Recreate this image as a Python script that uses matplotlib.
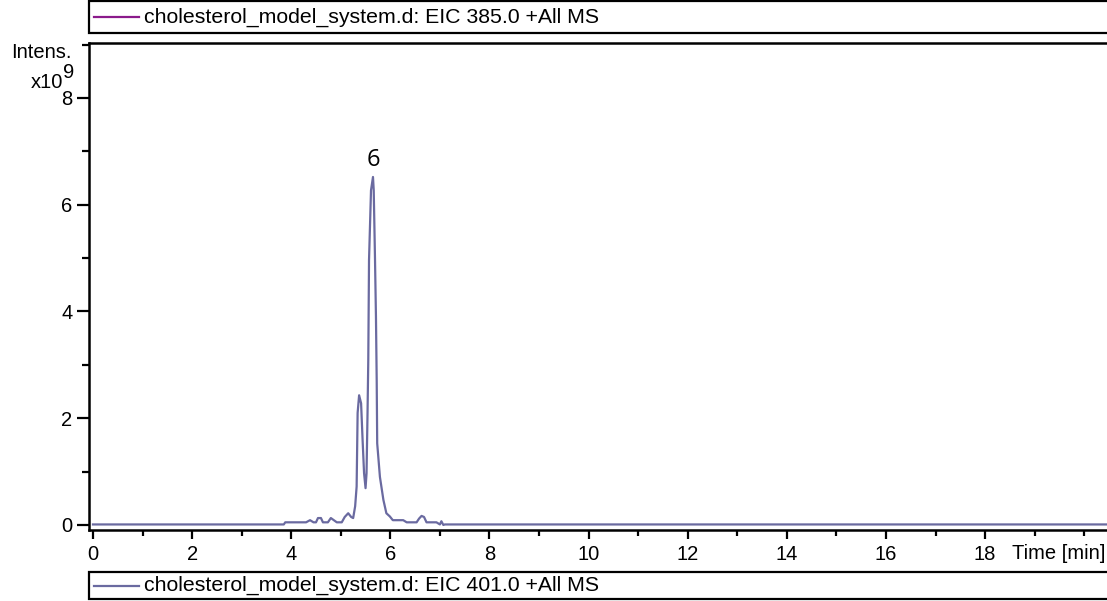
"""Extracted ion chromatogram of the cholesterol model system (EIC 401.0)."""

import matplotlib

matplotlib.use("Agg")

import matplotlib.pyplot as plt
from matplotlib.lines import Line2D
from matplotlib.patches import Rectangle
from matplotlib.ticker import MultipleLocator


OUTPUT_PATH = "out.png"

TOP_TRACE_LABEL = "cholesterol_model_system.d: EIC 385.0 +All MS"
TRACE_LABEL = "cholesterol_model_system.d: EIC 401.0 +All MS"
PEAK_LABEL = "6"

# retention time [min] and intensity [x10^9]
time_min = [
    0.00, 3.85, 3.88, 4.30, 4.38, 4.45, 4.50, 4.54, 4.60, 4.64,
    4.74, 4.80, 4.86, 4.92, 5.02, 5.08, 5.15, 5.21, 5.25, 5.29,
    5.32, 5.34, 5.37, 5.41, 5.44, 5.47, 5.50, 5.52, 5.54, 5.555,
    5.57, 5.61, 5.65, 5.665, 5.69, 5.71, 5.725, 5.735, 5.79, 5.86,
    5.92, 5.99, 6.05, 6.26, 6.33, 6.53, 6.58, 6.63, 6.68, 6.73,
    6.93, 7.00, 7.03, 7.07, 7.10, 20.50,
]
intensity = [
    0.01, 0.01, 0.05, 0.05, 0.09, 0.05, 0.05, 0.13, 0.13, 0.05,
    0.05, 0.13, 0.09, 0.05, 0.05, 0.15, 0.22, 0.15, 0.13, 0.35,
    0.72, 2.10, 2.43, 2.28, 1.60, 0.97, 0.69, 0.97, 2.10, 3.09,
    4.96, 6.27, 6.52, 6.27, 5.02, 3.90, 2.70, 1.53, 0.90, 0.47,
    0.22, 0.16, 0.09, 0.09, 0.05, 0.05, 0.12, 0.17, 0.15, 0.05,
    0.05, 0.01, 0.07, 0.00, 0.01, 0.01,
]
peak_time = 5.65
peak_intensity = 6.52

x_ticks = [0, 2, 4, 6, 8, 10, 12, 14, 16, 18]
y_ticks = [0, 2, 4, 6, 8]

TRACE_COLOR = "#6a6aa0"
TOP_TRACE_COLOR = "#8b1a8b"

W, H = 1107, 601


def legend_box(fig, top_px, bottom_px, color, label):
    """Draw a boxed trace label spanning the plot width."""
    left = 88.5 / W
    bottom = 1 - bottom_px / H
    height = (bottom_px - top_px) / H
    fig.patches.append(
        Rectangle((left, bottom), 1.2, height, transform=fig.transFigure,
                  facecolor="white", edgecolor="black", linewidth=1.6)
    )
    y_mid = bottom + height / 2
    fig.lines.append(
        Line2D([94 / W, 139 / W], [y_mid, y_mid],
               transform=fig.transFigure, color=color, linewidth=1.6)
    )
    fig.text(144 / W, y_mid, label, fontsize=15.3, va="center", ha="left")


def main() -> None:
    plt.rcParams["font.family"] = ["Liberation Sans", "DejaVu Sans"]

    fig = plt.figure(figsize=(W / 100, H / 100), dpi=100)
    ax = fig.add_axes([88.5 / W, 71 / H, 1 - 88.5 / W, 487 / H])

    ax.plot(time_min, intensity, color=TRACE_COLOR, linewidth=1.6)
    ax.text(peak_time, peak_intensity + 0.1, PEAK_LABEL, ha="center",
            va="bottom", fontsize=17, family=["Open Sans", "DejaVu Sans"])

    ax.set_xlim(-0.09, 20.46)
    ax.set_ylim(-0.094, 9.03)

    ax.set_xticks(x_ticks)
    ax.set_yticks(y_ticks)
    ax.xaxis.set_minor_locator(MultipleLocator(1))
    ax.yaxis.set_minor_locator(MultipleLocator(1))
    ax.tick_params(axis="both", which="both", width=1.6, direction="out",
                   labelsize=14.5)
    ax.tick_params(axis="x", which="major", length=6.5, pad=4)
    ax.tick_params(axis="x", which="minor", length=4)
    ax.tick_params(axis="y", which="major", length=8.5, pad=3)
    ax.tick_params(axis="y", which="minor", length=5)

    for side in ("left", "bottom", "top"):
        ax.spines[side].set_linewidth(1.8)
    ax.spines["right"].set_visible(False)

    ax.text((1012 - 88.5) / 1018.5, -0.028, "Time [min]",
            transform=ax.transAxes, ha="left", va="top", fontsize=14.5)

    # intensity unit label: "Intens." over "x10" with a raised exponent
    fig.text(72 / W, 1 - 53 / H, "Intens.", ha="right", va="center",
             fontsize=14.5)
    fig.text(63 / W, 1 - 82 / H, "x10", ha="right", va="center",
             fontsize=14.5)
    fig.text(63 / W, 1 - 73 / H, "9", ha="left", va="center",
             fontsize=14.5)

    legend_box(fig, 1, 33, TOP_TRACE_COLOR, TOP_TRACE_LABEL)
    legend_box(fig, 572, 599, TRACE_COLOR, TRACE_LABEL)

    fig.savefig(OUTPUT_PATH, dpi=100, facecolor="white")
    plt.close(fig)


if __name__ == "__main__":
    main()
